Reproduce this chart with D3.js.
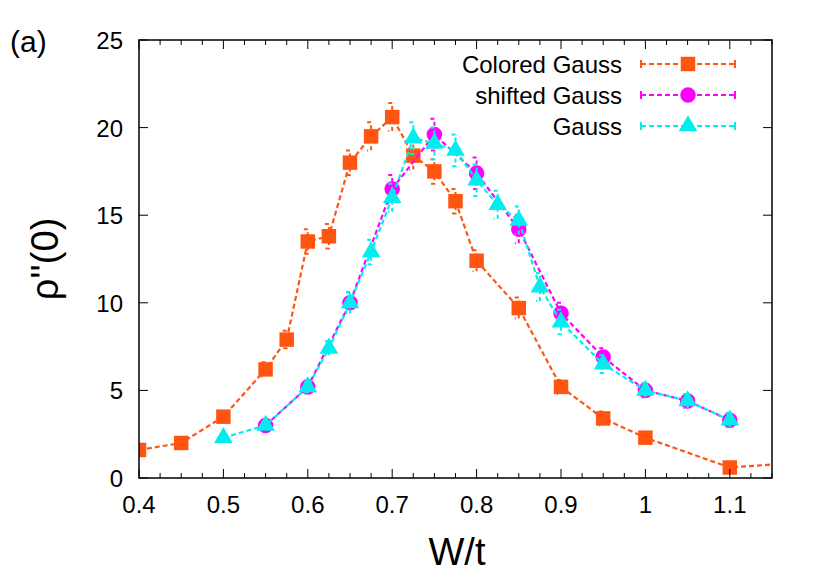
<!DOCTYPE html>
<html><head><meta charset="utf-8">
<script src="https://cdn.jsdelivr.net/npm/d3@7"></script>
<style>body{margin:0;background:#fff}text{font-family:"Liberation Sans",Arial,sans-serif}</style>
</head><body><svg id="chart" width="830" height="581"></svg>
<script>
// datos
const colX = [0.4,0.45,0.5,0.55,0.575,0.6,0.625,0.65,0.675,0.7,0.725,0.75,0.775,0.8,0.85,0.9,0.95,1.0,1.1,1.16];
const colY = [1.6,2.0,3.5,6.2,7.9,13.5,13.8,18.0,19.5,20.6,18.4,17.5,15.8,12.4,9.7,5.2,3.4,2.3,0.6,0.8];
const colE = [0,0,0,0.4,0.5,0.7,0.7,0.7,0.8,0.8,0.8,0.7,0.7,0.6,0.6,0.4,0.4,0.3,0.3,0];
const shX = [0.55,0.6,0.65,0.7,0.75,0.8,0.85,0.9,0.95,1.0,1.05,1.1];
const shY = [3.0,5.2,10.0,16.5,19.6,17.4,14.2,9.4,6.9,5.0,4.4,3.3];
const shE = [0.2,0.3,0.6,0.8,0.9,0.9,0.8,0.6,0.5,0.4,0.4,0.4];
const gaX = [0.5,0.55,0.6,0.625,0.65,0.675,0.7,0.725,0.75,0.775,0.8,0.825,0.85,0.875,0.9,0.95,1.0,1.05,1.1];
const gaY = [2.3,3.0,5.2,7.4,10.0,12.9,16.0,19.4,19.1,18.7,17.0,15.6,14.7,10.9,8.9,6.5,5.0,4.4,3.3];
const gaE = [0.2,0.2,0.3,0.4,0.6,0.7,0.8,0.9,0.9,0.9,0.9,0.8,0.8,0.8,0.7,0.5,0.4,0.4,0.4];
const xTicks = [0.4,0.5,0.6,0.7,0.8,0.9,1,1.1];
const yTicks = [0,5,10,15,20,25];

const series = [
  {name:"Colored Gauss", xs:colX, ys:colY, es:colE, color:"#ff5511", sym:"square"},
  {name:"shifted Gauss", xs:shX, ys:shY, es:shE, color:"#ff00ff", sym:"circle"},
  {name:"Gauss", xs:gaX, ys:gaY, es:gaE, color:"#00eeee", sym:"triangle"}
];

const svg = d3.select("#chart");
const L = 139, R = 772, T = 40, B = 478;
const x = d3.scaleLinear().domain([0.4, 1.15]).range([L, R]);
const y = d3.scaleLinear().domain([0, 25]).range([B, T]);

svg.append("clipPath").attr("id","c").append("rect")
  .attr("x",L).attr("y",T).attr("width",R-L).attr("height",B-T);

const syms = {square:d3.symbolSquare, circle:d3.symbolCircle, triangle:d3.symbolTriangle};
const symSize = {square:210, circle:190, triangle:150};

series.forEach(s => {
  const pts = s.xs.map((v,i) => ({x:v, y:s.ys[i], e:s.es[i]}));
  const g = svg.append("g").attr("clip-path","url(#c)");
  // barras de error
  pts.filter(d => d.e > 0).forEach(d => {
    const px = x(d.x);
    g.append("path")
      .attr("d", `M${px-4},${y(d.y+d.e)}H${px}V${y(d.y-d.e)}H${px-4}`)
      .attr("fill","none").attr("stroke", s.color).attr("stroke-width",2)
      .attr("stroke-dasharray","4,3");
  });
  g.append("path").datum(pts)
    .attr("d", d3.line().x(d => x(d.x)).y(d => y(d.y)))
    .attr("fill","none").attr("stroke", s.color).attr("stroke-width",2.2)
    .attr("stroke-dasharray","5,3");
  g.selectAll(".m").data(pts).join("path")
    .attr("transform", d => `translate(${x(d.x)},${y(d.y)})`)
    .attr("d", d3.symbol(syms[s.sym], symSize[s.sym]))
    .attr("fill", s.color);
});

// ejes y marco
const fr = svg.append("g");
fr.append("rect").attr("x",L).attr("y",T).attr("width",R-L).attr("height",B-T)
  .attr("fill","none").attr("stroke","#000").attr("stroke-width",1.5);
d3.range(0.4, 1.151, 0.025).forEach(v => {
  const major = xTicks.some(t => Math.abs(t - v) < 1e-6);
  const len = major ? 9 : 5;
  fr.append("line").attr("x1",x(v)).attr("x2",x(v)).attr("y1",B).attr("y2",B-len).attr("stroke","#000");
  fr.append("line").attr("x1",x(v)).attr("x2",x(v)).attr("y1",T).attr("y2",T+len).attr("stroke","#000");
});
xTicks.forEach(v => fr.append("text").attr("x",x(v)).attr("y",B+35).attr("text-anchor","middle")
  .attr("font-size",24).text(v));
yTicks.forEach(v => {
  fr.append("line").attr("x1",L).attr("x2",L+9).attr("y1",y(v)).attr("y2",y(v)).attr("stroke","#000");
  fr.append("line").attr("x1",R).attr("x2",R-9).attr("y1",y(v)).attr("y2",y(v)).attr("stroke","#000");
  fr.append("text").attr("x",L-16).attr("y",y(v)+9).attr("text-anchor","end")
    .attr("font-size",24).text(v);
});
svg.append("text").attr("x",457).attr("y",565).attr("text-anchor","middle").attr("font-size",38).text("W/t");
svg.append("text").attr("transform","translate(58,259) rotate(-90)").attr("text-anchor","middle")
  .attr("font-size",38).text("ρ''(0)");
svg.append("text").attr("x",10).attr("y",52).attr("font-size",30).text("(a)");

// leyenda
series.forEach((s,i) => {
  const ly = 64 + i*31;
  svg.append("text").attr("x",622).attr("y",ly+9).attr("text-anchor","end").attr("font-size",24).text(s.name);
  svg.append("path").attr("d",`M641,${ly}H735`).attr("stroke",s.color).attr("stroke-width",2.2)
    .attr("stroke-dasharray","5,3");
  svg.append("path").attr("d",`M641,${ly-4}V${ly+4}M735,${ly-4}V${ly+4}`).attr("stroke",s.color).attr("stroke-width",2);
  svg.append("path").attr("transform",`translate(688,${ly})`)
    .attr("d", d3.symbol(syms[s.sym], symSize[s.sym])).attr("fill",s.color);
});
</script></body></html>
